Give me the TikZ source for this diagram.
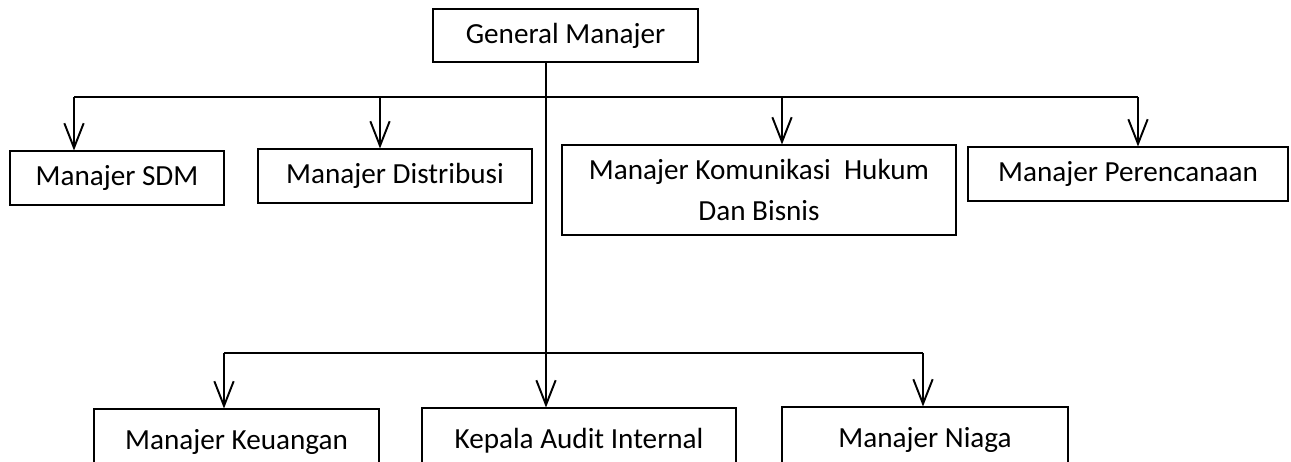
\documentclass[tikz,border=0pt]{standalone}
\usepackage{fontspec}
\setmainfont{Carlito}
\usepackage{tikz}
\usetikzlibrary{arrows.meta, positioning, calc}

\begin{document}
\begin{tikzpicture}[x=0.02cm, y=-0.02cm,
  box/.style={draw, line width=0.6pt, inner sep=0pt, align=center,
    font=\fontsize{16.6}{23.8}\selectfont},
  arr/.style={line width=1.1pt, -{Straight Barb[length=14pt, width=11pt, line width=1.1pt]}},
  bus/.style={line width=1.1pt},
]
  \useasboundingbox (0,0) rectangle (1291,461);
  \clip (0,0) rectangle (1291,461);
  % Nodes
  \node[box, minimum width=265*0.02cm, minimum height=53*0.02cm] (gm) at (565.5,35.5) {General Manajer};
  \node[box, minimum width=214*0.02cm, minimum height=54*0.02cm] (sdm) at (117,178) {Manajer SDM};
  \node[box, minimum width=274*0.02cm, minimum height=54*0.02cm] (dist) at (395,176) {Manajer Distribusi};
  \node[box, minimum width=394*0.02cm, minimum height=90*0.02cm] (kom) at (759,190) {Manajer Komunikasi\ \ Hukum\\Dan Bisnis};
  \node[box, minimum width=320*0.02cm, minimum height=54*0.02cm] (ren) at (1128,174) {Manajer Perencanaan};
  % Bottom row (cut by the page edge)
  \node[box, minimum width=285*0.02cm, minimum height=66*0.02cm] (keu) at (236.5,442) {Manajer Keuangan};
  \node[box, minimum width=314*0.02cm, minimum height=66*0.02cm] (aud) at (579,441) {Kepala Audit Internal};
  \node[box, minimum width=286*0.02cm, minimum height=66*0.02cm] (nia) at (925,440) {Manajer Niaga};
  % Bus points
  \coordinate (t0) at (546,97);
  \coordinate (t1) at (74,97);
  \coordinate (t2) at (380,97);
  \coordinate (t3) at (782,97);
  \coordinate (t4) at (1138,97);
  \coordinate (b0) at (546,353);
  \coordinate (b1) at (224,353);
  \coordinate (b3) at (923,353);
  % Edges
  \draw[bus] (t0 |- gm.south) -- (b0);
  \draw[bus] (t1) -- (t4);
  \draw[bus] (b1) -- (b3);
  \draw[arr] (t1) -- (t1 |- sdm.north);
  \draw[arr] (t2) -- (t2 |- dist.north);
  \draw[arr] (t3) -- (t3 |- kom.north);
  \draw[arr] (t4) -- (t4 |- ren.north);
  \draw[arr] (b1) -- (b1 |- keu.north);
  \draw[arr] (b0) -- (b0 |- aud.north);
  \draw[arr] (b3) -- (b3 |- nia.north);
\end{tikzpicture}
\end{document}
